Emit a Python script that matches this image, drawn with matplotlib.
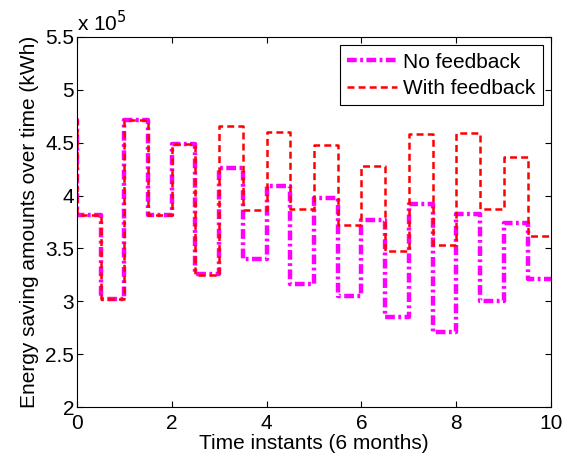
import matplotlib.pyplot as plt
from matplotlib.ticker import FuncFormatter

plt.rcParams['font.family'] = ['Liberation Sans', 'DejaVu Sans']
plt.rcParams['lines.scale_dashes'] = False

# time instants (half-step grid); first point sits just left of the axis
times = [-0.5, 0, 0.5, 1, 1.5, 2, 2.5, 3, 3.5, 4, 4.5, 5, 5.5,
         6, 6.5, 7, 7.5, 8, 8.5, 9, 9.5, 10]

# energy saving amounts (kWh)
no_feedback = [4.71e5, 3.82e5, 3.02e5, 4.71e5, 3.82e5, 4.49e5, 3.26e5,
               4.26e5, 3.40e5, 4.09e5, 3.16e5, 3.98e5, 3.05e5, 3.77e5,
               2.85e5, 3.92e5, 2.71e5, 3.83e5, 3.00e5, 3.74e5, 3.21e5, 3.21e5]
with_feedback = [4.71e5, 3.82e5, 3.02e5, 4.71e5, 3.82e5, 4.49e5, 3.25e5,
                 4.66e5, 3.86e5, 4.60e5, 3.87e5, 4.48e5, 3.72e5, 4.28e5,
                 3.48e5, 4.58e5, 3.53e5, 4.59e5, 3.87e5, 4.36e5, 3.62e5, 3.62e5]

fig = plt.figure(figsize=(5.73, 4.61), dpi=100)
ax = fig.add_axes([0.134, 0.117, 0.828, 0.803])

ax.plot(times, no_feedback, drawstyle="steps-post", color="magenta",
        linewidth=3.2, dashes=(7, 2.5, 2, 2.5), label="No feedback")
ax.plot(times, with_feedback, drawstyle="steps-post", color="red",
        linewidth=1.8, dashes=(5, 3), label="With feedback")

ax.set_xlim(0, 10)
ax.set_ylim(2e5, 5.5e5)
ax.set_xticks([0, 2, 4, 6, 8, 10])
ax.set_yticks([2e5, 2.5e5, 3e5, 3.5e5, 4e5, 4.5e5, 5e5, 5.5e5])
ax.yaxis.set_major_formatter(FuncFormatter(lambda v, p: f"{v / 1e5:g}"))
ax.tick_params(direction="in", labelsize=15, top=True, right=True, length=4)
ax.tick_params(axis="x", pad=5)
ax.tick_params(axis="y", pad=2)
ax.text(0.0, 1.005, "x 10$^5$", transform=ax.transAxes, fontsize=15,
        ha="left", va="bottom")

ax.set_xlabel("Time instants (6 months)", fontsize=15, labelpad=1)
ax.set_ylabel("Energy saving amounts over time (kWh)", fontsize=15,
              labelpad=4)

leg = ax.legend(loc="upper right", fontsize=15, fancybox=False,
                framealpha=1, edgecolor="black", handlelength=2.4,
                handletextpad=0.3, borderaxespad=0.4, borderpad=0.35,
                labelspacing=0.35)
leg.get_frame().set_linewidth(0.8)

fig.savefig("out.png", dpi=100)
